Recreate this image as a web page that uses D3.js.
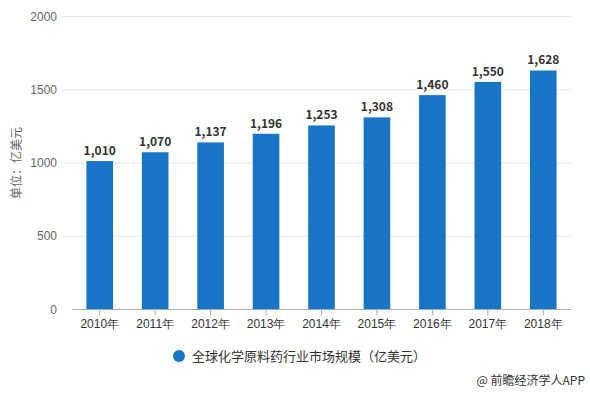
<!DOCTYPE html>
<html><head><meta charset="utf-8">
<script src="https://cdn.jsdelivr.net/npm/d3@7"></script>
<style>body{margin:0;background:#fff;}svg{display:block;font-family:"Microsoft YaHei","Noto Sans CJK SC",sans-serif;}</style>
</head><body><svg id="c" width="590" height="393"></svg>
<script>
const categories = ["2010年","2011年","2012年","2013年","2014年","2015年","2016年","2017年","2018年"];
const values = [1010,1070,1137,1196,1253,1308,1460,1550,1628];
const yTicks = [0,500,1000,1500,2000];
const seriesName = "全球化学原料药行业市场规模（亿美元）";
const yTitle = "单位：亿美元";
const credit = "@ 前瞻经济学人APP";

const svg = d3.select("#c");
const L = 72, R = 571, T = 16, B = 309;
const x = d3.scaleBand().domain(categories).range([L, R]).paddingInner(0.52).paddingOuter(0.26);
const y = d3.scaleLinear().domain([0,2000]).range([B, T]);

svg.append("g").selectAll("line").data(yTicks.filter(d=>d>0)).join("line")
  .attr("x1",62).attr("x2",R).attr("y1",d=>y(d)+0.5).attr("y2",d=>y(d)+0.5)
  .attr("stroke","#e6e6e6");

const yAxis = svg.append("g").attr("transform",`translate(57,0)`)
  .call(d3.axisLeft(y).tickValues(yTicks).tickSize(0).tickPadding(0).tickFormat(d3.format("d")));
yAxis.select(".domain").remove();
yAxis.selectAll("text").attr("fill","#666").style("font-size","12px").attr("dy","0.35em");

svg.append("g").selectAll("rect").data(values).join("rect")
  .attr("x",(d,i)=>x(categories[i])).attr("width",x.bandwidth())
  .attr("y",d=>y(d)).attr("height",d=>B-y(d)).attr("fill","#1874c4");

const xAxis = svg.append("g").attr("transform",`translate(0,${B+0.5})`)
  .call(d3.axisBottom(x).tickSize(6).tickPadding(4));
xAxis.select(".domain").attr("stroke","#aaa").attr("d",`M${L},0H${R}`);
xAxis.selectAll(".tick line").attr("stroke","#aaa");
xAxis.selectAll("text").attr("fill","#333").style("font-size","12px");

svg.append("g").selectAll("text").data(values).join("text")
  .attr("x",(d,i)=>x(categories[i])+x.bandwidth()/2).attr("y",d=>y(d)-6)
  .attr("text-anchor","middle").attr("fill","#333").style("font-size","12px").style("font-weight","bold")
  .text(d=>d3.format(",")(d));

svg.append("text").attr("transform","translate(17,163) rotate(-90)").attr("text-anchor","middle")
  .attr("fill","#666").style("font-size","12px").attr("dy","0.35em").text(yTitle);

svg.append("circle").attr("cx",179).attr("cy",356).attr("r",6).attr("fill","#1874c4");
svg.append("text").attr("x",192).attr("y",356).attr("dy","0.35em").attr("fill","#333")
  .style("font-size","13px").text(seriesName);

svg.append("text").attr("x",585).attr("y",381).attr("dy","0.35em").attr("text-anchor","end")
  .attr("fill","#333").style("font-size","12px").text(credit);
</script></body></html>
